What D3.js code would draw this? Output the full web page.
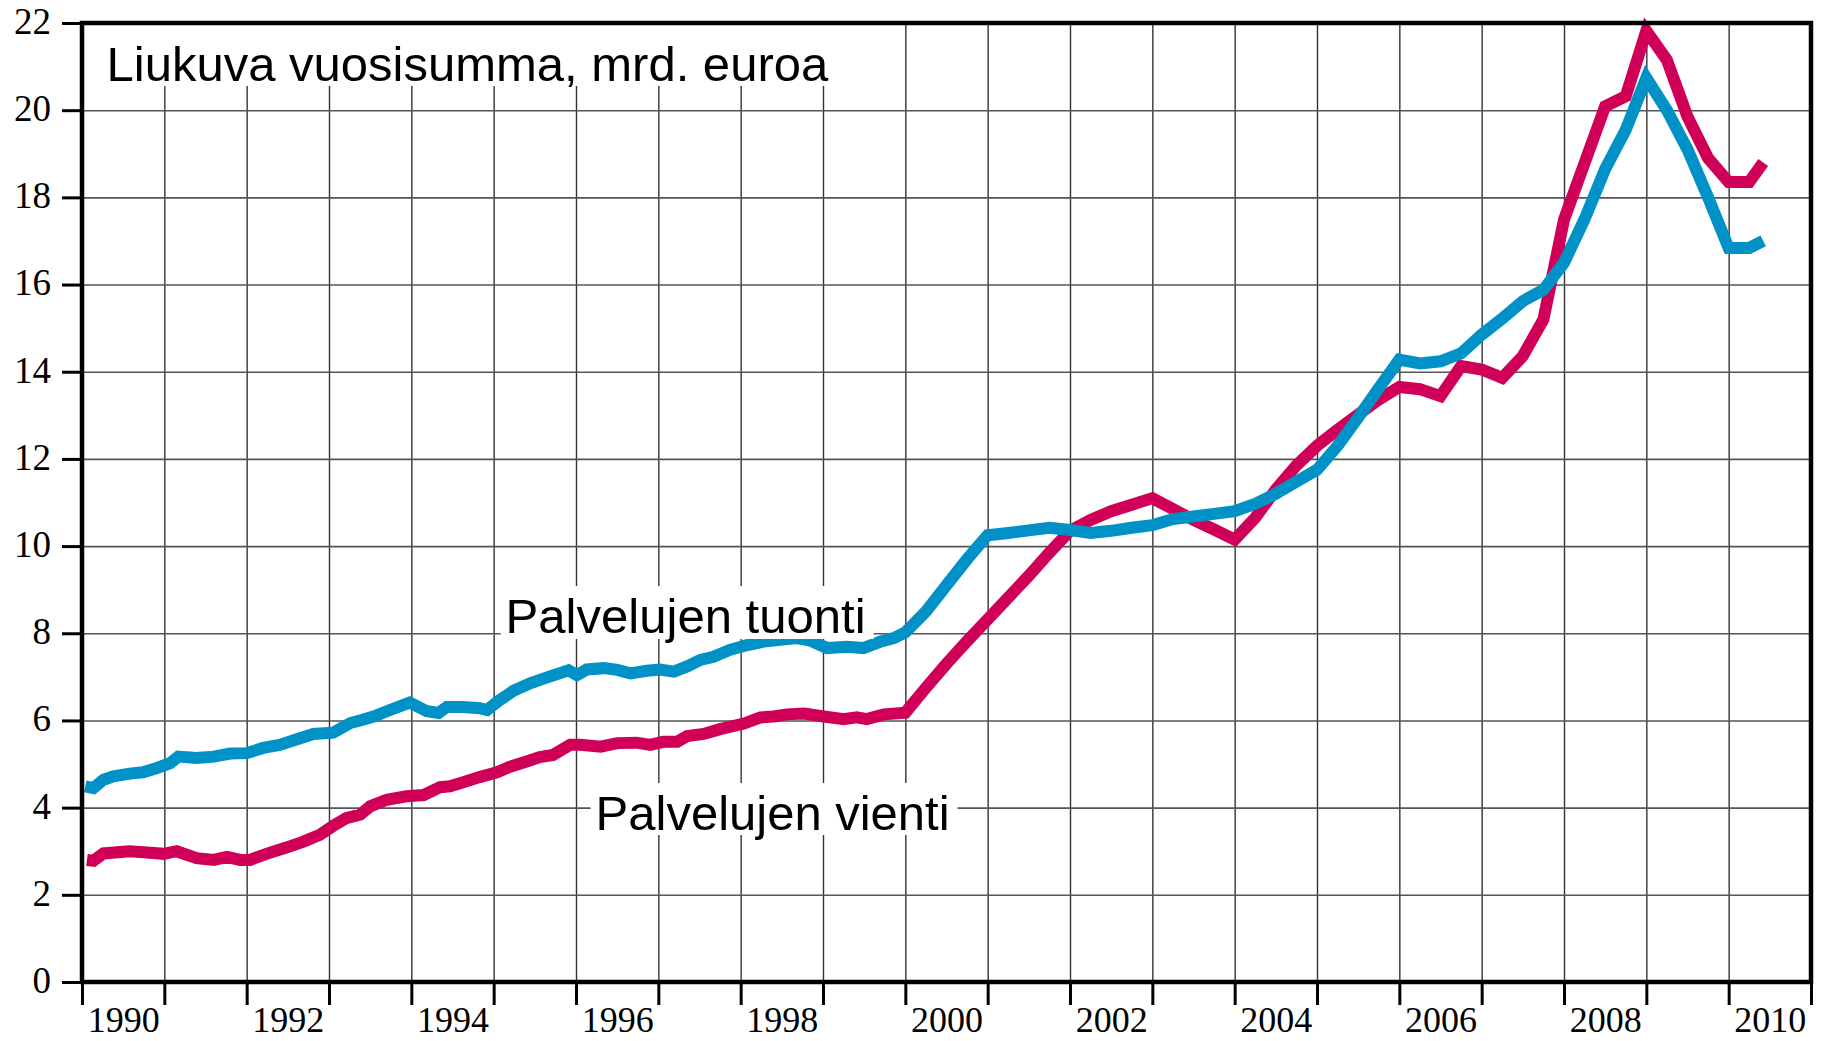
<!DOCTYPE html>
<html><head><meta charset="utf-8">
<script src="https://cdn.jsdelivr.net/npm/d3@7"></script>
<style>html,body{margin:0;padding:0;background:#fff;} svg{display:block}</style>
</head><body>
<svg id="chart" width="1831" height="1041"></svg>
<script>
const titleText = "Liukuva vuosisumma, mrd. euroa";
const tuontiLabel = "Palvelujen tuonti";
const vientiLabel = "Palvelujen vienti";
const yTicks = [0, 2, 4, 6, 8, 10, 12, 14, 16, 18, 20, 22];
const yearTicks = [1990,1991,1992,1993,1994,1995,1996,1997,1998,1999,2000,2001,2002,2003,2004,2005,2006,2007,2008,2009,2010,2011];
const yearLabels = [1990, 1992, 1994, 1996, 1998, 2000, 2002, 2004, 2006, 2008, 2010];

// Palvelujen tuonti (imports of services), rolling annual sum, bn EUR
const tuontiYears = [
 1990.04,1990.14,1990.26,1990.38,1990.58,1990.74,1990.91,1991.07,1991.17,1991.39,1991.60,1991.80,
 1992.00,1992.20,1992.40,1992.61,1992.81,1993.05,1993.26,1993.42,1993.54,1993.74,1993.98,1994.19,
 1994.33,1994.43,1994.63,1994.83,1994.92,1995.06,1995.24,1995.45,1995.65,1995.91,1996.01,1996.13,
 1996.34,1996.50,1996.66,1996.86,1997.02,1997.19,1997.35,1997.51,1997.67,1997.87,1998.08,1998.28,
 1998.48,1998.68,1998.85,1999.05,1999.29,1999.49,1999.70,1999.86,
 2000.00,2000.25,2000.50,2000.75,2001.00,2001.25,2001.50,2001.75,2002.00,2002.25,2002.50,2002.75,
 2003.00,2003.25,2003.50,2003.75,2004.00,2004.25,2004.50,2004.75,2005.00,2005.25,2005.50,2005.75,
 2006.00,2006.25,2006.50,2006.75,2007.00,2007.25,2007.50,2007.75,2008.00,2008.25,2008.50,2008.75,
 2009.00,2009.25,2009.50,2009.75,2010.00,2010.25,2010.42];
const tuontiValues = [
 4.49,4.45,4.64,4.72,4.78,4.81,4.91,5.02,5.17,5.14,5.17,5.24,
 5.25,5.37,5.44,5.57,5.69,5.72,5.94,6.02,6.09,6.24,6.41,6.21,
 6.17,6.31,6.31,6.28,6.24,6.45,6.68,6.86,6.99,7.15,7.04,7.17,
 7.20,7.16,7.08,7.14,7.17,7.12,7.24,7.39,7.46,7.62,7.73,7.81,
 7.85,7.89,7.83,7.66,7.69,7.66,7.81,7.89,
 8.02,8.50,9.10,9.70,10.25,10.30,10.36,10.42,10.37,10.30,10.35,10.42,
 10.48,10.62,10.68,10.74,10.80,10.97,11.20,11.48,11.75,12.30,12.95,13.62,
 14.28,14.19,14.24,14.42,14.85,15.22,15.62,15.88,16.50,17.50,18.65,19.55,
 20.74,20.00,19.10,18.00,16.84,16.84,17.00];

// Palvelujen vienti (exports of services), rolling annual sum, bn EUR
const vientiYears = [
 1990.06,1990.14,1990.26,1990.58,1990.79,1990.99,1991.15,1991.39,1991.60,1991.76,1991.92,1992.04,
 1992.24,1992.49,1992.69,1992.89,1993.05,1993.21,1993.38,1993.50,1993.70,1993.94,1994.15,1994.35,
 1994.47,1994.63,1994.83,1995.04,1995.20,1995.40,1995.56,1995.72,1995.93,1996.05,1996.30,1996.50,
 1996.74,1996.90,1997.06,1997.23,1997.35,1997.55,1997.75,1998.04,1998.24,1998.40,1998.56,1998.77,
 1999.01,1999.25,1999.41,1999.53,1999.74,
 2000.00,2000.25,2000.50,2000.75,2001.00,2001.25,2001.50,2001.75,2002.00,2002.25,2002.50,2002.75,
 2003.00,2003.25,2003.50,2003.75,2004.00,2004.25,2004.50,2004.75,2005.00,2005.25,2005.50,2005.75,
 2006.00,2006.25,2006.50,2006.75,2007.00,2007.25,2007.50,2007.75,2008.00,2008.25,2008.50,2008.75,
 2009.00,2009.25,2009.50,2009.75,2010.00,2010.25,2010.42];
const vientiValues = [
 2.80,2.78,2.95,3.00,2.97,2.94,3.00,2.84,2.80,2.87,2.80,2.80,
 2.94,3.09,3.22,3.38,3.58,3.76,3.84,4.03,4.18,4.26,4.29,4.47,
 4.49,4.58,4.70,4.81,4.94,5.06,5.16,5.21,5.44,5.44,5.40,5.48,
 5.49,5.44,5.51,5.51,5.64,5.69,5.80,5.93,6.07,6.09,6.14,6.16,
 6.09,6.03,6.07,6.03,6.14,
 6.18,6.75,7.30,7.82,8.32,8.82,9.32,9.85,10.35,10.60,10.80,10.95,
 11.10,10.85,10.60,10.38,10.15,10.65,11.30,11.85,12.30,12.67,13.02,13.36,
 13.65,13.60,13.44,14.13,14.05,13.86,14.36,15.20,17.49,18.79,20.09,20.32,
 21.82,21.15,19.85,18.90,18.35,18.35,18.80];

const m = {left: 82, right: 1811, top: 23, bottom: 982};
const x = d3.scaleLinear().domain([1990, 2011]).range([m.left, m.right]);
const y = d3.scaleLinear().domain([0, 22]).range([m.bottom, m.top]);
const svg = d3.select('#chart');
const serif = '"Liberation Serif", "Times New Roman", serif';
const sans = '"Liberation Sans", Arial, sans-serif';

// grid
svg.append('g').attr('transform', `translate(0,${m.bottom})`)
  .call(d3.axisBottom(x).tickValues(yearTicks.filter(d => d > 1990 && d < 2011))
        .tickSize(-(m.bottom - m.top)).tickFormat(''))
  .call(g => g.select('.domain').remove())
  .selectAll('line').attr('stroke', '#333').attr('stroke-width', 1.4);
svg.append('g').attr('transform', `translate(${m.left},0)`)
  .call(d3.axisLeft(y).tickValues(yTicks.filter(d => d > 0 && d < 22))
        .tickSize(-(m.right - m.left)).tickFormat(''))
  .call(g => g.select('.domain').remove())
  .selectAll('line').attr('stroke', '#555').attr('stroke-width', 1.6);

// lines
const line = d3.line().x(d => x(d[0])).y(d => y(d[1]));
svg.append('path').datum(d3.zip(vientiYears, vientiValues))
  .attr('d', line).attr('fill', 'none').attr('stroke', '#D00058')
  .attr('stroke-width', 12).attr('stroke-linejoin', 'miter').attr('stroke-linecap', 'butt');
svg.append('path').datum(d3.zip(tuontiYears, tuontiValues))
  .attr('d', line).attr('fill', 'none').attr('stroke', '#0091C7')
  .attr('stroke-width', 12).attr('stroke-linejoin', 'miter').attr('stroke-linecap', 'butt');

// boxed labels
function boxedText(txt, tx, ty, size, top, bottomPad, tl) {
  const g = svg.append('g');
  const r = g.append('rect').attr('fill', '#fff');
  const t = g.append('text').attr('x', tx).attr('y', ty)
    .attr('font-family', sans).attr('font-size', size).attr('fill', '#000').text(txt);
  if (tl) t.attr('textLength', tl).attr('lengthAdjust', 'spacingAndGlyphs');
  const len = tl || t.node().getComputedTextLength();
  r.attr('x', tx - 5).attr('width', len + 13)
   .attr('y', top).attr('height', ty + bottomPad - top);
}
boxedText(titleText, 106.5, 81, 49, m.top, 5, null);
boxedText(tuontiLabel, 505.6, 633, 48, 633 - 47, 6, 360);
boxedText(vientiLabel, 595.6, 830, 48, 830 - 47, 5, 354);

// frame
svg.append('rect').attr('x', m.left).attr('y', m.top)
  .attr('width', m.right - m.left).attr('height', m.bottom - m.top)
  .attr('fill', 'none').attr('stroke', '#000').attr('stroke-width', 4.5);

// y axis ticks and labels
const ya = svg.append('g').attr('transform', `translate(${m.left},0)`)
  .call(d3.axisLeft(y).tickValues(yTicks).tickSize(20).tickPadding(11).tickFormat(d3.format('d')));
ya.select('.domain').remove();
ya.selectAll('line').attr('stroke', '#000').attr('stroke-width', 3);
ya.selectAll('text').attr('font-family', serif).attr('font-size', 37).attr('fill', '#000').attr('dy', '0.28em');

// x axis ticks
const xa = svg.append('g').attr('transform', `translate(0,${m.bottom})`)
  .call(d3.axisBottom(x).tickValues(yearTicks).tickSize(23).tickFormat(''));
xa.select('.domain').remove();
xa.selectAll('line').attr('stroke', '#000').attr('stroke-width', 3);

// x labels centred in each labelled year
const xl = svg.append('g').attr('transform', `translate(0,${m.bottom})`)
  .call(d3.axisBottom(x).tickValues(yearLabels.map(d => d + 0.5)).tickSize(0).tickFormat(d => String(Math.floor(d))));
xl.select('.domain').remove();
xl.selectAll('text').attr('font-family', serif).attr('font-size', 36).attr('fill', '#000')
  .attr('y', 50).attr('dy', null);
</script>
</body></html>
